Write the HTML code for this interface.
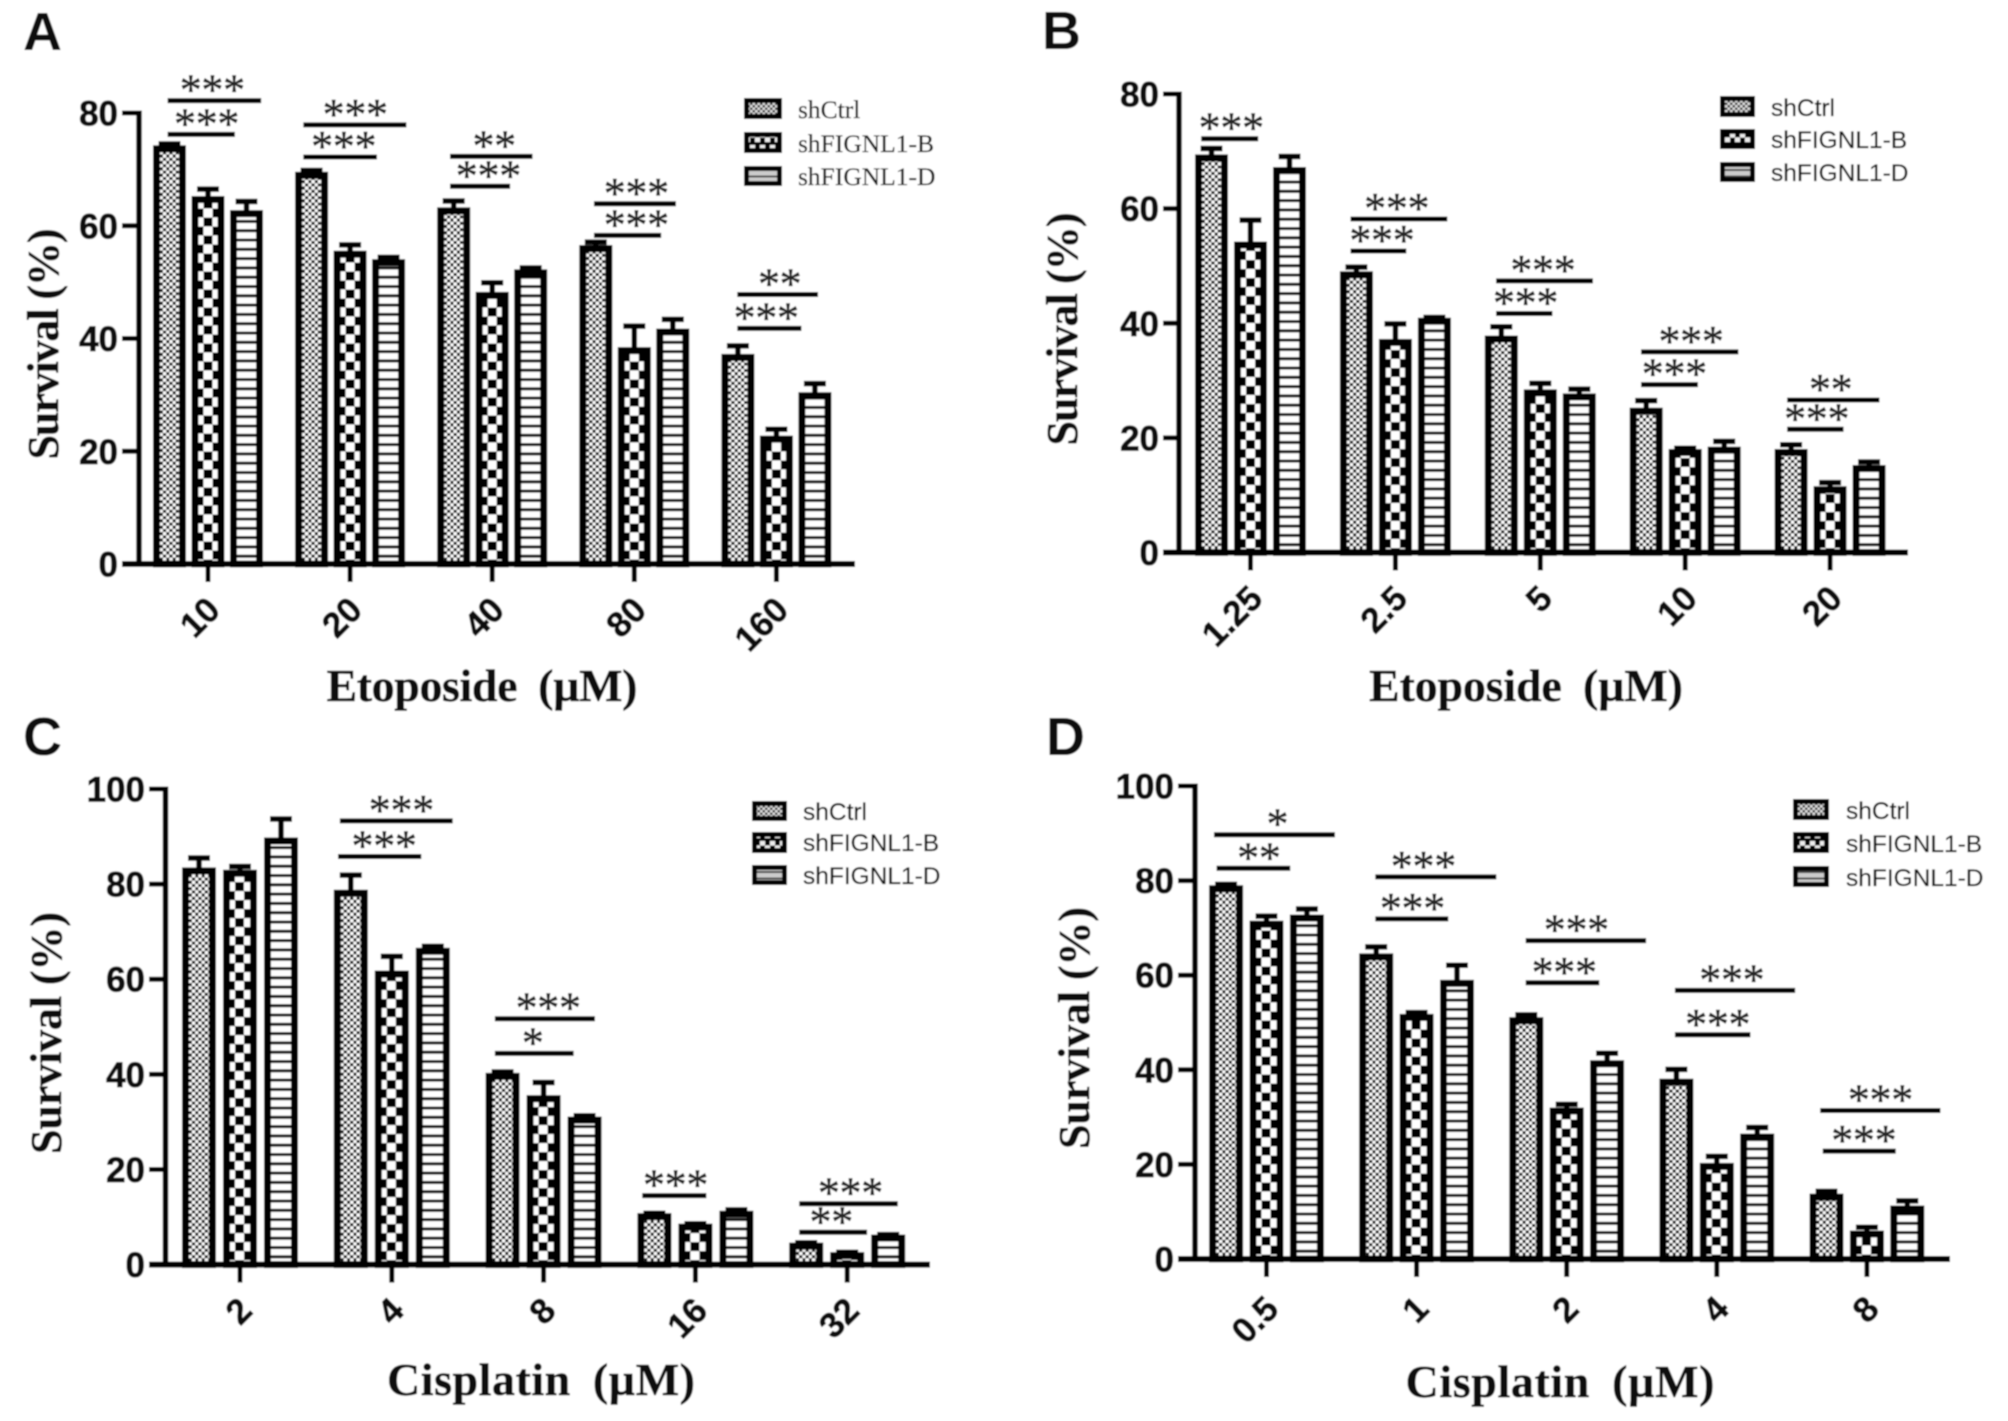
<!DOCTYPE html>
<html lang="en">
<head>
<meta charset="utf-8">
<title>Survival charts</title>
<style>
html,body{margin:0;padding:0;background:#fff;}
#figure{display:block;width:2008px;height:1421px;filter:url(#soften);}
.tick{font:bold 35px "Liberation Sans",sans-serif;fill:#111;stroke:#111;stroke-width:0.8px;}
.title{font:bold 46px "Liberation Serif",serif;fill:#111;word-spacing:10px;stroke:#111;stroke-width:0.5px;}
.ytitle{font:bold 44px "Liberation Serif",serif;fill:#111;stroke:#111;stroke-width:0.5px;}
.letter{font:bold 54px "Liberation Sans",sans-serif;fill:#111;}
.leg-serif{font:25.5px "Liberation Serif",serif;fill:#111;stroke:#111;stroke-width:0.25px;}
.leg-sans{font:24.5px "Liberation Sans",sans-serif;fill:#111;stroke:#111;stroke-width:0.25px;}
.stars{font:44px "Liberation Serif",serif;fill:#222;stroke:#222;stroke-width:0.6px;letter-spacing:-0.3px;}
</style>
</head>
<body>
<svg id="figure" xmlns="http://www.w3.org/2000/svg" width="2008" height="1421" viewBox="0 0 2008 1421">
<defs>
<filter id="soften" x="0" y="0" width="100%" height="100%"><feGaussianBlur stdDeviation="0.8"/></filter>
<pattern id="pat-ctrl" patternUnits="userSpaceOnUse" width="6.4" height="6.4">
<rect width="6.4" height="6.4" fill="#111"/>
<rect x="0" y="0" width="3.4" height="3.4" fill="#fff"/>
<rect x="3.2" y="3.2" width="3.4" height="3.4" fill="#fff"/>
</pattern>
<pattern id="pat-b" patternUnits="userSpaceOnUse" width="18" height="18">
<rect width="18" height="18" fill="#000"/>
<rect x="8.5" y="4.5" width="9" height="9" fill="#fff"/>
<rect x="-0.5" y="13.5" width="9" height="9" fill="#fff"/>
<rect x="17.5" y="13.5" width="9" height="9" fill="#fff"/>
<rect x="-0.5" y="-4.5" width="9" height="9" fill="#fff"/>
<rect x="17.5" y="-4.5" width="9" height="9" fill="#fff"/>
</pattern>
<pattern id="pat-d" patternUnits="userSpaceOnUse" width="19" height="9.3">
<rect width="19" height="9.3" fill="#fff"/>
<rect y="0" width="19" height="3" fill="#000"/>
</pattern>
<pattern id="leg-ctrl" patternUnits="userSpaceOnUse" width="5" height="5">
<rect width="5" height="5" fill="#333"/>
<rect x="0" y="0" width="2.6" height="2.6" fill="#ddd"/>
<rect x="2.5" y="2.5" width="2.6" height="2.6" fill="#ddd"/>
</pattern>
<pattern id="leg-b" patternUnits="userSpaceOnUse" width="10" height="12">
<rect width="10" height="12" fill="#000"/>
<rect x="0" y="1" width="5" height="4.5" fill="#eee"/>
<rect x="5" y="5.5" width="5" height="4.5" fill="#eee"/>
</pattern>
<pattern id="leg-d" patternUnits="userSpaceOnUse" width="40" height="6.5">
<rect width="40" height="6.5" fill="#ccc"/>
<rect y="0" width="40" height="2" fill="#444"/>
</pattern>
</defs>
<rect width="2008" height="1421" fill="#fff"/>

<g id="panel-a">
<text class="letter" x="23" y="50">A</text>
<text class="ytitle" transform="translate(58,344) rotate(-90)" text-anchor="middle" textLength="231">Survival (%)</text>
<text class="title" x="482" y="701" text-anchor="middle" textLength="311">Etoposide (µM)</text>
<g>
<rect x="746.5" y="100.5" width="33" height="16" fill="url(#leg-ctrl)" stroke="#000" stroke-width="5"/>
<text class="leg-serif" x="798" y="118">shCtrl</text>
<rect x="746.5" y="134.5" width="33" height="16" fill="url(#leg-b)" stroke="#000" stroke-width="5"/>
<text class="leg-serif" x="798" y="152">shFIGNL1-B</text>
<rect x="746.5" y="168.5" width="33" height="15" fill="url(#leg-d)" stroke="#000" stroke-width="5"/>
<text class="leg-serif" x="798" y="185">shFIGNL1-D</text>
</g>
</g>

<g id="panel-b">
<text class="letter" x="1042" y="49">B</text>
<text class="ytitle" transform="translate(1077,329) rotate(-90)" text-anchor="middle" textLength="233">Survival (%)</text>
<text class="title" x="1526" y="701" text-anchor="middle" textLength="314">Etoposide (µM)</text>
<g>
<rect x="1722.5" y="98.5" width="30" height="16" fill="url(#leg-ctrl)" stroke="#000" stroke-width="5"/>
<text class="leg-sans" x="1771" y="116">shCtrl</text>
<rect x="1722.5" y="131.5" width="30" height="15" fill="url(#leg-b)" stroke="#000" stroke-width="5"/>
<text class="leg-sans" x="1771" y="148">shFIGNL1-B</text>
<rect x="1722.5" y="164.5" width="30" height="15" fill="url(#leg-d)" stroke="#000" stroke-width="5"/>
<text class="leg-sans" x="1771" y="181">shFIGNL1-D</text>
</g>
</g>

<g id="panel-c">
<text class="letter" x="23" y="755">C</text>
<text class="ytitle" transform="translate(61,1033) rotate(-90)" text-anchor="middle" textLength="242">Survival (%)</text>
<text class="title" x="541" y="1395" text-anchor="middle" textLength="308">Cisplatin (µM)</text>
<g>
<rect x="754.5" y="803.5" width="30" height="15" fill="url(#leg-ctrl)" stroke="#000" stroke-width="5"/>
<text class="leg-sans" x="803" y="820">shCtrl</text>
<rect x="754.5" y="834.5" width="30" height="16" fill="url(#leg-b)" stroke="#000" stroke-width="5"/>
<text class="leg-sans" x="803" y="851">shFIGNL1-B</text>
<rect x="754.5" y="867.5" width="30" height="15" fill="url(#leg-d)" stroke="#000" stroke-width="5"/>
<text class="leg-sans" x="803" y="884">shFIGNL1-D</text>
</g>
</g>

<g id="panel-d">
<text class="letter" x="1046" y="755">D</text>
<text class="ytitle" transform="translate(1089,1028) rotate(-90)" text-anchor="middle" textLength="242">Survival (%)</text>
<text class="title" x="1560" y="1397" text-anchor="middle" textLength="309">Cisplatin (µM)</text>
<g>
<rect x="1795.5" y="801.5" width="31" height="16" fill="url(#leg-ctrl)" stroke="#000" stroke-width="5"/>
<text class="leg-sans" x="1846" y="819">shCtrl</text>
<rect x="1795.5" y="834.5" width="31" height="16" fill="url(#leg-b)" stroke="#000" stroke-width="5"/>
<text class="leg-sans" x="1846" y="852">shFIGNL1-B</text>
<rect x="1795.5" y="868.5" width="31" height="16" fill="url(#leg-d)" stroke="#000" stroke-width="5"/>
<text class="leg-sans" x="1846" y="886">shFIGNL1-D</text>
</g>
</g>
</svg>

<script>
// Panel A – Etoposide
const aCategories = ['10', '20', '40', '80', '160'];
const aTicks = [0, 20, 40, 60, 80];
const aCtrl = [74, 69.3, 63, 56.3, 37];
const aCtrlErr = [0.5, 0.5, 1.4, 0.8, 1.7];
const aB = [65, 55.3, 48, 38.2, 22.5];
const aBErr = [1.5, 1.3, 1.9, 4, 1.4];
const aD = [62.5, 53.8, 52, 41.5, 30.2];
const aDErr = [1.8, 0.6, 0.5, 1.9, 1.8];
const aSigStart = [-0.284, -0.284, 0.671, 0.671, 1.703, 1.703, 2.716, 2.716, 3.725, 3.725];
const aSigEnd = [0.374, 0.189, 1.396, 1.189, 2.284, 2.126, 3.293, 3.189, 4.293, 4.176];
const aSigLevel = [82.2, 76.2, 77.9, 72.2, 72.3, 67, 63.9, 58.3, 47.8, 41.8];
const aSigCenter = [0.03, -0.01, 1.036, 0.955, 2.014, 1.973, 3.014, 3.014, 4.023, 3.928];
const aSigLabel = ['***', '***', '***', '***', '**', '***', '***', '***', '**', '***'];

// Panel B – Etoposide
const bCategories = ['1.25', '2.5', '5', '10', '20'];
const bTicks = [0, 20, 40, 60, 80];
const bCtrl = [69.2, 48.8, 37.6, 25, 17.8];
const bCtrlErr = [1.3, 1, 1.8, 1.5, 1];
const bB = [54, 37, 28.2, 17.8, 11.3];
const bBErr = [4, 2.9, 1.3, 0.4, 0.9];
const bD = [67, 40.7, 27.5, 18.2, 15];
const bDErr = [2.1, 0.3, 1, 1.2, 0.8];
const bSigStart = [-0.34, 0.69, 0.69, 1.695, 1.695, 2.695, 2.695, 3.704, 3.704];
const bSigEnd = [0.053, 1.358, 1.075, 2.363, 2.084, 3.367, 3.088, 4.341, 4.093];
const bSigLevel = [72.2, 58.2, 52.6, 47.4, 41.7, 35, 29.3, 26.6, 21.5];
const bSigCenter = [-0.133, 1.009, 0.907, 2.018, 1.898, 3.04, 2.925, 4.004, 3.907];
const bSigLabel = ['***', '***', '***', '***', '***', '***', '***', '**', '***'];

// Panel C – Cisplatin
const cCategories = ['2', '4', '8', '16', '32'];
const cTicks = [0, 20, 40, 60, 80, 100];
const cCtrl = [83.2, 78.5, 40, 10.5, 4.3];
const cCtrlErr = [2.3, 3.4, 0.5, 0.3, 0.3];
const cB = [82.7, 61.5, 35.3, 8.3, 2.3];
const cBErr = [1, 3.3, 3, 0.3, 0.3];
const cD = [89.5, 66.3, 30.8, 11, 6];
const cDErr = [4.2, 0.6, 0.5, 0.5, 0.3];
const cSigStart = [0.658, 0.646, 1.679, 1.679, 2.65, 3.684, 3.684];
const cSigEnd = [1.401, 1.194, 2.338, 2.198, 3.072, 4.333, 4.131];
const cSigLevel = [93.3, 85.8, 51.7, 44.4, 14.5, 12.8, 6.8];
const cSigCenter = [1.063, 0.949, 2.03, 1.928, 2.869, 4.021, 3.895];
const cSigLabel = ['***', '***', '***', '*', '***', '***', '**'];

// Panel D – Cisplatin
const dCategories = ['0.5', '1', '2', '4', '8'];
const dTicks = [0, 20, 40, 60, 80, 100];
const dCtrl = [78.7, 64.3, 50.8, 37.8, 13.5];
const dCtrlErr = [0.5, 1.7, 0.8, 2.3, 0.8];
const dB = [71.2, 51.5, 31.7, 20, 5.7];
const dBErr = [1.3, 0.6, 1, 1.7, 1];
const dD = [72.5, 58.7, 41.7, 26.2, 11];
const dDErr = [1.5, 3.4, 1.8, 1.6, 1.3];
const dSigStart = [-0.35, -0.333, 0.725, 0.725, 1.727, 1.727, 2.721, 2.721, 3.689, 3.706];
const dSigEnd = [0.456, 0.158, 1.531, 1.211, 2.529, 2.217, 3.522, 3.224, 4.49, 4.192];
const dSigLevel = [89.7, 82.6, 80.8, 71.9, 67.3, 58.4, 56.8, 47.4, 31.4, 22.8];
const dSigCenter = [0.072, -0.051, 1.045, 0.972, 2.064, 1.983, 3.1, 3.006, 4.09, 3.979];
const dSigLabel = ['*', '**', '***', '***', '***', '***', '***', '***', '***', '***'];

const NS = 'http://www.w3.org/2000/svg';
const seriesFills = ['url(#pat-ctrl)', 'url(#pat-b)', 'url(#pat-d)'];

function svgEl(parent, tag, attrs) {
  const el = document.createElementNS(NS, tag);
  for (const k in attrs) el.setAttribute(k, attrs[k]);
  parent.appendChild(el);
  return el;
}

function drawPanel(f, cats, ticks, series, errs, sig) {
  const root = document.getElementById(f.id);
  const yMax = ticks[ticks.length - 1];
  const yScale = v => f.zero - v * (f.zero - f.top) / yMax;
  const xScale = c => f.tick0 + c * f.pitch;
  const stroke = 7;
  const lift = 1.5;

  // error bars and bars
  series.forEach((vals, s) => {
    vals.forEach((v, i) => {
      const cx = xScale(i) + (s - 1) * f.barPitch;
      const e = errs[s][i];
      const capY = yScale(v + e);
      const stem = svgEl(root, 'line', {x1: cx, x2: cx, y1: yScale(v), y2: capY, stroke: '#000', 'stroke-width': 5.5});
      
      
      const cap = svgEl(root, 'line', {x1: cx - 11, x2: cx + 11, y1: capY, y2: capY, stroke: '#000', 'stroke-width': 5.5});
      
      
      const left = cx - f.barW / 2 + stroke / 2;
      const g = svgEl(root, 'g', {transform: 'translate(' + left + ',' + f.zero + ')'});
      
      
      const top = yScale(v) - lift + stroke / 2;
      const bar = svgEl(g, 'rect', {x: 0, y: top - f.zero, width: f.barW - stroke, height: Math.max(0, f.zero - top), fill: seriesFills[s], stroke: '#000', 'stroke-width': stroke});
      
      
    });
  });

  // axes
  const yAxis = svgEl(root, 'line', {x1: f.axisX, x2: f.axisX, y1: f.top - 2.5, y2: f.zero + 2.5, stroke: '#000', 'stroke-width': 5.5});
  
  
  const xAxis = svgEl(root, 'line', {x1: f.xStart, x2: f.xEnd, y1: f.zero, y2: f.zero, stroke: '#000', 'stroke-width': 6});
  
  

  ticks.forEach(t => {
    const y = yScale(t);
    const mark = svgEl(root, 'line', {x1: f.xStart, x2: f.axisX, y1: y, y2: y, stroke: '#000', 'stroke-width': 5});
    
    
    const lab = svgEl(root, 'text', {x: f.xStart - 4, y: y + 12.5, 'text-anchor': 'end', class: 'tick'});
    
    
    lab.textContent = t;
  });

  cats.forEach((c, i) => {
    const x = xScale(i);
    const mark = svgEl(root, 'line', {x1: x, x2: x, y1: f.zero, y2: f.zero + 18, stroke: '#000', 'stroke-width': 5});
    
    
    const lab = svgEl(root, 'text', {'text-anchor': 'end', class: 'tick', transform: 'translate(' + (x + 14) + ',' + (f.zero + f.labelDy) + ') rotate(-45)'});
    
    
    lab.textContent = c;
  });

  // significance lines
  sig.level.forEach((lv, i) => {
    const y = yScale(lv);
    const line = svgEl(root, 'line', {x1: xScale(sig.start[i]), x2: xScale(sig.end[i]), y1: y, y2: y, stroke: '#000', 'stroke-width': 5});
    
    
    const st = svgEl(root, 'text', {x: xScale(sig.center[i]), y: y + 4, 'text-anchor': 'middle', class: 'stars'});
    
    
    st.textContent = sig.label[i];
  });
}

drawPanel({id: 'panel-a', top: 113, zero: 564, axisX: 139, xStart: 122, xEnd: 855, tick0: 208, pitch: 142.1, barW: 33, barPitch: 38.5, labelDy: 48},
  aCategories, aTicks, [aCtrl, aB, aD], [aCtrlErr, aBErr, aDErr],
  {start: aSigStart, end: aSigEnd, level: aSigLevel, center: aSigCenter, label: aSigLabel});
drawPanel({id: 'panel-b', top: 94, zero: 552.5, axisX: 1179, xStart: 1163, xEnd: 1908, tick0: 1250.5, pitch: 144.9, barW: 33, barPitch: 39, labelDy: 48},
  bCategories, bTicks, [bCtrl, bB, bD], [bCtrlErr, bBErr, bDErr],
  {start: bSigStart, end: bSigEnd, level: bSigLevel, center: bSigCenter, label: bSigLabel});
drawPanel({id: 'panel-c', top: 789, zero: 1264.6, axisX: 165.5, xStart: 149, xEnd: 930, tick0: 240, pitch: 151.8, barW: 34, barPitch: 41, labelDy: 48},
  cCategories, cTicks, [cCtrl, cB, cD], [cCtrlErr, cBErr, cDErr],
  {start: cSigStart, end: cSigEnd, level: cSigLevel, center: cSigCenter, label: cSigLabel});
drawPanel({id: 'panel-d', top: 786, zero: 1259, axisX: 1195, xStart: 1178, xEnd: 1950, tick0: 1266.5, pitch: 150.1, barW: 34, barPitch: 40.4, labelDy: 52},
  dCategories, dTicks, [dCtrl, dB, dD], [dCtrlErr, dBErr, dDErr],
  {start: dSigStart, end: dSigEnd, level: dSigLevel, center: dSigCenter, label: dSigLabel});
</script>
</body>
</html>
